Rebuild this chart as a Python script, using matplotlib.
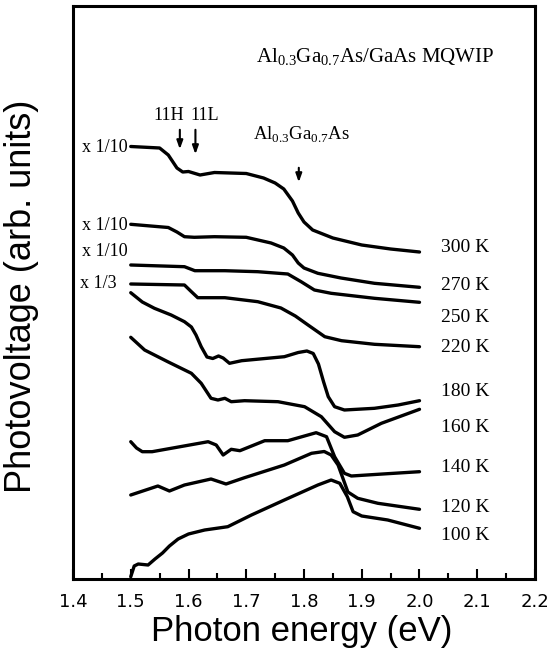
import numpy as np
import matplotlib
matplotlib.use('Agg')
from matplotlib import pyplot as plt
from matplotlib.ticker import MultipleLocator, FormatStrFormatter

plt.rcParams['mathtext.fontset'] = 'custom'
plt.rcParams['mathtext.rm'] = 'Liberation Serif'

# photon energy (eV) and photovoltage (arb. units)
e300 = [1.50, 1.55, 1.565, 1.58, 1.59, 1.60, 1.62, 1.645, 1.70, 1.73, 1.75, 1.765, 1.78, 1.79, 1.80,
        1.815, 1.85, 1.90, 1.95, 2.00]
v300 = [432.5, 431, 424, 411, 407, 407.5, 404, 406.5, 405.5, 401, 396, 390, 378, 366, 357,
        349, 341, 334, 330, 327]

e270 = [1.50, 1.565, 1.58, 1.593, 1.61, 1.645, 1.70, 1.743, 1.765, 1.78, 1.79, 1.80, 1.824, 1.864, 1.922, 2.00]
v270 = [354.7, 351.5, 347, 342.3, 341.7, 342.3, 341.7, 336, 331, 324, 316, 311, 305.7, 301, 295.7, 291.7]

e250 = [1.50, 1.593, 1.611, 1.663, 1.72, 1.772, 1.795, 1.818, 1.847, 1.922, 2.00]
v250 = [314, 312.3, 308.3, 308.3, 307.3, 305, 297.3, 289, 285.7, 280.7, 276.7]

e220 = [1.50, 1.593, 1.605, 1.616, 1.663, 1.72, 1.76, 1.785, 1.807, 1.836, 1.865, 1.922, 2.00]
v220 = [295, 294, 287.3, 281.3, 281.3, 277.3, 271, 263, 254, 242.3, 238.3, 234.7, 232.3]

e180 = [1.50, 1.52, 1.541, 1.57, 1.593, 1.605, 1.613, 1.622, 1.632, 1.642, 1.652, 1.660, 1.671, 1.692,
        1.766, 1.790, 1.805, 1.816, 1.825, 1.834, 1.842, 1.853, 1.870, 1.922, 1.963, 2.00]
v180 = [286.3, 277, 270.7, 264, 257.3, 252, 244, 232.3, 222, 220.5, 223, 221, 215.7, 218.3,
        222.3, 226.5, 228, 225.5, 215, 197, 182.3, 172.3, 169, 170.7, 174, 178.3]

e160 = [1.50, 1.524, 1.564, 1.605, 1.622, 1.639, 1.651, 1.663, 1.674, 1.697, 1.755, 1.801, 1.830,
        1.853, 1.870, 1.893, 1.934, 2.00]
v160 = [241.7, 229, 217.3, 205.7, 195.7, 180.7, 179, 180.7, 177.3, 178.3, 177.3, 172.3, 162.3,
        147.3, 141.7, 144, 155.7, 169.7]

e140 = [1.50, 1.51, 1.52, 1.537, 1.634, 1.648, 1.66, 1.674, 1.689, 1.732, 1.772, 1.821, 1.839, 1.853,
        1.870, 1.882, 1.928, 2.00]
v140 = [137.3, 131, 127.3, 127.3, 137.3, 134, 124, 129.7, 128.3, 138.3, 138.3, 146.3, 142.3, 122.3,
        105.7, 103, 104.7, 107.3]

e120 = [1.50, 1.547, 1.567, 1.593, 1.639, 1.665, 1.697, 1.766, 1.813, 1.835, 1.847, 1.859, 1.876,
        1.893, 1.928, 2.00]
v120 = [84, 93, 88, 94, 100, 95, 101.3, 114, 125.7, 127.5, 124, 114, 87, 80.7, 75.7, 69.7]

e100 = [1.50, 1.506, 1.513, 1.53, 1.542, 1.555, 1.567, 1.582, 1.60, 1.628, 1.668, 1.709, 1.766, 1.824,
        1.847, 1.862, 1.875, 1.885, 1.90, 1.945, 2.00]
v100 = [2.3, 13, 15, 14, 20, 26, 33, 40, 45, 49, 52.3, 64, 79, 94, 99, 95.7, 82.3, 67.3, 63, 59, 50.7]

temps = ['300 K', '270 K', '250 K', '220 K', '180 K', '160 K', '140 K', '120 K', '100 K']
temp_y = [332, 294, 262, 232, 187, 152, 112, 72, 44]
scales = ['x 1/10', 'x 1/10', 'x 1/10', 'x 1/3']
scale_y = [431, 354, 327, 295]

fig = plt.figure(figsize=(5.58, 6.52), dpi=100)
ax = fig.add_axes([73/558, 1 - 579/652, 462/558, 573/652])

for e, v in [(e300, v300), (e270, v270), (e250, v250), (e220, v220), (e180, v180),
             (e160, v160), (e140, v140), (e120, v120), (e100, v100)]:
    ax.plot(e, v, color='black', lw=2.4, solid_joinstyle='round', solid_capstyle='round')

ax.set_xlim(1.4, 2.2)
ax.set_ylim(0, 573)
ax.xaxis.set_major_locator(MultipleLocator(0.1))
ax.xaxis.set_minor_locator(MultipleLocator(0.05))
ax.xaxis.set_major_formatter(FormatStrFormatter('%.1f'))
ax.tick_params(axis='x', which='major', direction='in', length=7, width=1.5, labelsize=13, pad=10)
ax.tick_params(axis='x', which='minor', direction='in', length=4, width=1.5)
ax.set_yticks([])
for s in ax.spines.values():
    s.set_linewidth(2.2)

serif = 'Liberation Serif'
for t, y in zip(temps, temp_y):
    ax.text(2.037, y, t, family=serif, fontsize=14, va='center', ha='left')
for t, y in zip(scales, scale_y):
    ax.text(1.494 if t != 'x 1/3' else 1.476, y, t, family=serif, fontsize=13, va='center', ha='right')

ax.text(1.717, 522, r'Al$_{\mathrm{0.3}}$Ga$_{\mathrm{0.7}}$As/GaAs MQWIP', family=serif, fontsize=15, va='center')
ax.text(1.5385, 464, '11H', family=serif, fontsize=13, va='center')
ax.text(1.6026, 464, '11L', family=serif, fontsize=13, va='center')
ax.text(1.712, 444, r'Al$_{\mathrm{0.3}}$Ga$_{\mathrm{0.7}}$As', family=serif, fontsize=13.5, va='center')

arrow = dict(arrowstyle='-|>,head_length=0.5,head_width=0.18', color='black', lw=1.5)
ax.annotate('', xy=(1.585, 427), xytext=(1.585, 452), arrowprops=arrow)
ax.annotate('', xy=(1.612, 422), xytext=(1.612, 452), arrowprops=arrow)
ax.annotate('', xy=(1.791, 394), xytext=(1.791, 414), arrowprops=arrow)

fig.text(22/558, 1 - 296/652, 'Photovoltage (arb. units)', rotation=90, fontsize=26,
         family='Liberation Sans', ha='center', va='center')
fig.text(302/558, 1 - 632/652, 'Photon energy (eV)', fontsize=25,
         family='Liberation Sans', ha='center', va='center')

plt.savefig('out.png', dpi=100)
